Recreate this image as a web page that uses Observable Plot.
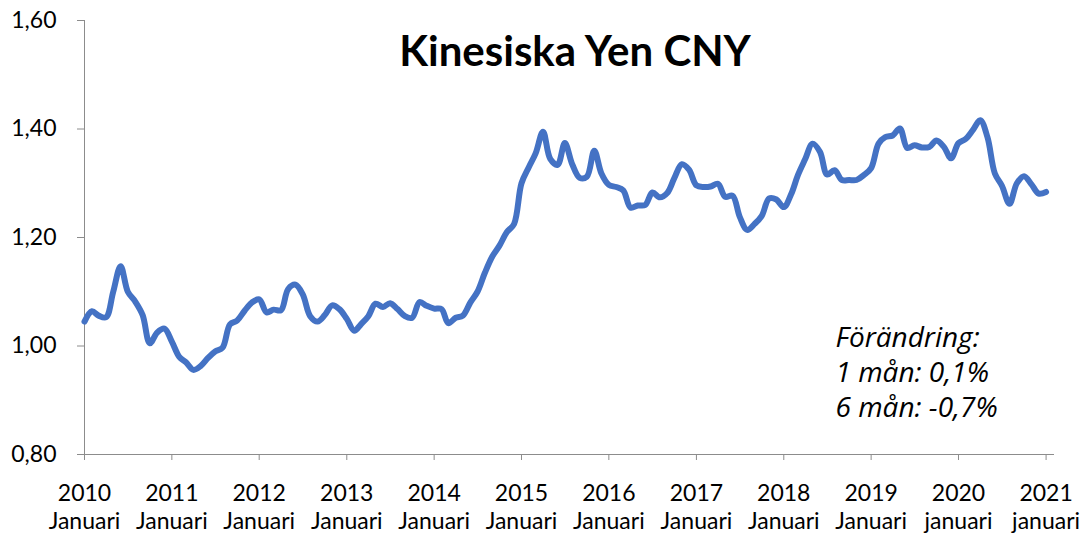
<!DOCTYPE html>
<html>
<head>
<meta charset="utf-8">
<script src="https://cdn.jsdelivr.net/npm/d3@7"></script>
<script src="https://cdn.jsdelivr.net/npm/@observablehq/plot@0.6"></script>
<style>
  html, body { margin: 0; padding: 0; background: #fff; }
  #chart svg { display: block; overflow: visible; }
</style>
</head>
<body>
<div id="chart"></div>
<script>
// Monthly CNY rate, January 2010 – January 2021
const startYear = 2010;
const startMonth = 0;
const values = [
  1.045, 1.064, 1.056, 1.053, 1.100, 1.147, 1.100, 1.082, 1.057, 1.005, 1.025, 1.032,
  1.008, 0.980, 0.970, 0.956, 0.963, 0.978, 0.990, 0.997, 1.040, 1.047, 1.065, 1.080,
  1.086, 1.062, 1.067, 1.066, 1.105, 1.113, 1.095, 1.055, 1.045, 1.057, 1.075, 1.068,
  1.050, 1.028, 1.040, 1.055, 1.078, 1.072, 1.079, 1.068, 1.055, 1.052, 1.081, 1.074,
  1.069, 1.068, 1.042, 1.052, 1.056, 1.080, 1.100, 1.135, 1.165, 1.185, 1.210, 1.225,
  1.300, 1.330, 1.355, 1.395, 1.345, 1.334, 1.374, 1.335, 1.310, 1.312, 1.360, 1.318,
  1.297, 1.293, 1.287, 1.255, 1.259, 1.260, 1.283, 1.274, 1.282, 1.310, 1.335, 1.325,
  1.296, 1.293, 1.294, 1.299, 1.275, 1.277, 1.238, 1.214, 1.225, 1.240, 1.272, 1.270,
  1.256, 1.280, 1.315, 1.345, 1.373, 1.358, 1.316, 1.324, 1.306, 1.306, 1.306, 1.315,
  1.328, 1.373, 1.385, 1.388, 1.401, 1.365, 1.370, 1.366, 1.367, 1.379, 1.367, 1.346,
  1.374, 1.382, 1.398, 1.416, 1.385, 1.318, 1.295, 1.262, 1.300, 1.313, 1.298, 1.281,
  1.284
];
const yTicks = [0.8, 1.0, 1.2, 1.4, 1.6];
const xTickYears = [2010, 2011, 2012, 2013, 2014, 2015, 2016, 2017, 2018, 2019, 2020, 2021];
const xTickMonthLabels = ["Januari", "Januari", "Januari", "Januari", "Januari", "Januari",
  "Januari", "Januari", "Januari", "Januari", "januari", "januari"];
const title = ["Kinesiska Yen CNY"];
const noteLines = ["Förändring:", "1 mån: 0,1%", "6 mån: -0,7%"];

const data = values.map((v, i) => ({
  date: new Date(Date.UTC(startYear, startMonth + i, 1)),
  value: v
}));
const xTicks = xTickYears.map(y => new Date(Date.UTC(y, 0, 1)));
const xLabel = d => {
  const i = xTickYears.indexOf(d.getUTCFullYear());
  return `${xTickYears[i]}\n${xTickMonthLabels[i]}`;
};
const fmt = v => v.toFixed(2).replace(".", ",");

const chart = Plot.plot({
  width: 1087,
  height: 534,
  marginLeft: 84,
  marginRight: 34,
  marginTop: 20,
  marginBottom: 80,
  style: { fontFamily: "Lato, 'Open Sans', sans-serif", fontSize: "23px", color: "#000", background: "#fff" },
  x: { type: "utc", domain: [new Date(Date.UTC(2010, 0, 1)), new Date(Date.UTC(2021, 1, 1))] },
  y: { domain: [0.8, 1.6] },
  marks: [
    Plot.frame({ anchor: "left", stroke: "#8c8c8c", strokeWidth: 1 }),
    Plot.frame({ anchor: "bottom", stroke: "#8c8c8c", strokeWidth: 1 }),
    Plot.axisY({
      ticks: yTicks, tickFormat: fmt, tickSize: 7, tickPadding: 21,
      stroke: "#8c8c8c", fill: "#000", fontSize: 23, label: null
    }),
    Plot.axisX({
      ticks: xTicks, tickFormat: xLabel, tickSize: 6, tickPadding: 20,
      stroke: "#8c8c8c", fill: "#000", fontSize: 23, lineHeight: 1.24, label: null
    }),
    Plot.line(data, {
      x: "date", y: "value", stroke: "#4472C4", strokeWidth: 6,
      curve: "catmull-rom", strokeLinejoin: "round", strokeLinecap: "round"
    }),
    Plot.text(title, {
      text: d => d, frameAnchor: "top", dx: 6, dy: 16, lineAnchor: "top",
      fontSize: 42, fontWeight: "bold", fill: "#000"
    }),
    Plot.text([noteLines.join("\n")], {
      text: d => d, frameAnchor: "top-left", dx: 751, dy: 302, lineAnchor: "top",
      textAnchor: "start", fontSize: 28, fontStyle: "italic", lineHeight: 1.24,
      fontFamily: "'Open Sans', sans-serif", fill: "#000"
    })
  ]
});
document.getElementById("chart").appendChild(chart);
</script>
</body>
</html>
